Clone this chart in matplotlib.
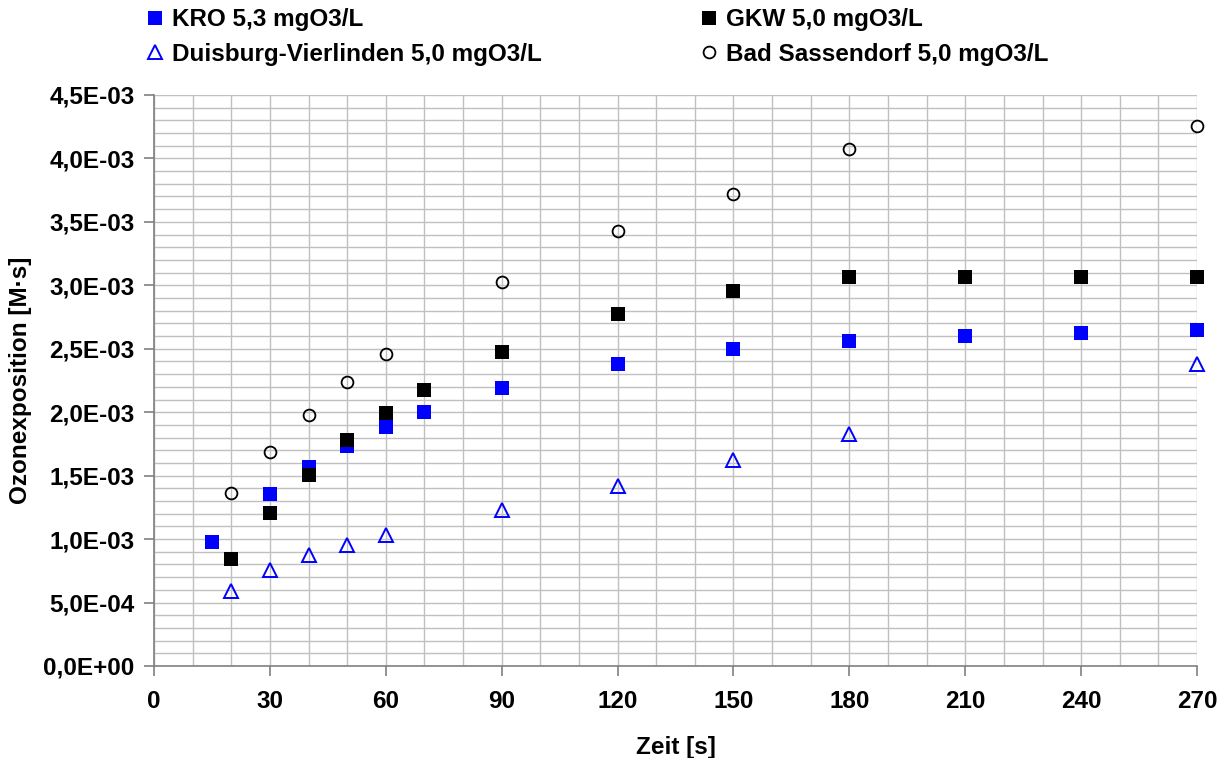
import matplotlib.pyplot as plt
from matplotlib.ticker import MultipleLocator, FuncFormatter

plt.rcParams['font.family'] = ['Liberation Sans', 'DejaVu Sans']
plt.rcParams['font.weight'] = 'bold'

FS = 17.5

# Ozonexposition über Zeit, vier Wässer
t_kro = [15, 30, 40, 50, 60, 70, 90, 120, 150, 180, 210, 240, 270]
kro = [0.98e-3, 1.355e-3, 1.568e-3, 1.734e-3, 1.883e-3, 2.0e-3, 2.19e-3,
       2.38e-3, 2.50e-3, 2.56e-3, 2.60e-3, 2.624e-3, 2.648e-3]

t_gkw = [20, 30, 40, 50, 60, 70, 90, 120, 150, 180, 210, 240, 270]
gkw = [0.843e-3, 1.206e-3, 1.505e-3, 1.78e-3, 1.994e-3, 2.175e-3, 2.474e-3,
       2.774e-3, 2.955e-3, 3.065e-3, 3.065e-3, 3.065e-3, 3.065e-3]

t_dv = [20, 30, 40, 50, 60, 90, 120, 150, 180, 270]
dv = [0.59e-3, 0.757e-3, 0.875e-3, 0.953e-3, 1.032e-3, 1.229e-3, 1.418e-3,
      1.623e-3, 1.828e-3, 2.38e-3]

t_bs = [20, 30, 40, 50, 60, 90, 120, 150, 180, 270]
bs = [1.363e-3, 1.686e-3, 1.978e-3, 2.238e-3, 2.459e-3, 3.026e-3, 3.428e-3,
      3.72e-3, 4.074e-3, 4.255e-3]

fig = plt.figure(figsize=(12.26, 7.58), dpi=100)
ax = fig.add_axes([0.1256, 0.1214, 0.8508, 0.7533])

h1, = ax.plot(t_kro, kro, 's', color='#0000ff', ms=9.5, mew=0, clip_on=False, zorder=5,
              label='KRO 5,3 mgO3/L')
h2, = ax.plot(t_gkw, gkw, 's', color='black', ms=9.5, mew=0, clip_on=False, zorder=5,
              label='GKW 5,0 mgO3/L')
h3, = ax.plot(t_dv, dv, '^', mfc='none', mec='#0000ff', ms=9.5, mew=1.4, clip_on=False, zorder=5,
              label='Duisburg-Vierlinden 5,0 mgO3/L')
h4, = ax.plot(t_bs, bs, 'o', mfc='none', mec='black', ms=8.5, mew=1.3, clip_on=False, zorder=5,
              label='Bad Sassendorf 5,0 mgO3/L')

ax.set_xlim(0, 270)
ax.set_ylim(0, 4.5e-3)
ax.xaxis.set_major_locator(MultipleLocator(30))
ax.xaxis.set_minor_locator(MultipleLocator(10))
ax.yaxis.set_major_locator(MultipleLocator(5e-4))
ax.yaxis.set_minor_locator(MultipleLocator(1e-4))

def sci_de(v, pos):
    s = '%.1E' % v
    mant, exp = s.split('E')
    return mant.replace('.', ',') + 'E' + exp[0] + exp[1:].zfill(2)

ax.yaxis.set_major_formatter(FuncFormatter(sci_de))

ax.grid(which='both', color='#c0c0c0', lw=1.0)
ax.set_axisbelow(True)
for side in ['top', 'right']:
    ax.spines[side].set_visible(False)
for side in ['left', 'bottom']:
    ax.spines[side].set_color('#808080')
    ax.spines[side].set_linewidth(1.2)

ax.tick_params(which='major', length=7, width=1.2, color='#808080', labelsize=FS)
ax.tick_params(axis='y', pad=7)
ax.tick_params(axis='x', pad=10)
ax.tick_params(which='minor', length=0)
for lab in ax.get_xticklabels() + ax.get_yticklabels():
    lab.set_fontweight('bold')

ax.set_xlabel('Zeit [s]', fontsize=FS, fontweight='bold', labelpad=17)
ax.set_ylabel('Ozonexposition [M·s]', fontsize=FS, fontweight='bold', labelpad=8)

fig.legend(handles=[h1, h3, h2, h4], ncol=2, loc='upper left',
           bbox_to_anchor=(0.104, 1.018), frameon=False,
           handlelength=0.5, handletextpad=0.45, columnspacing=6.6,
           labelspacing=0.47, prop={'weight': 'bold', 'size': FS})

fig.savefig('out.png', dpi=100)
